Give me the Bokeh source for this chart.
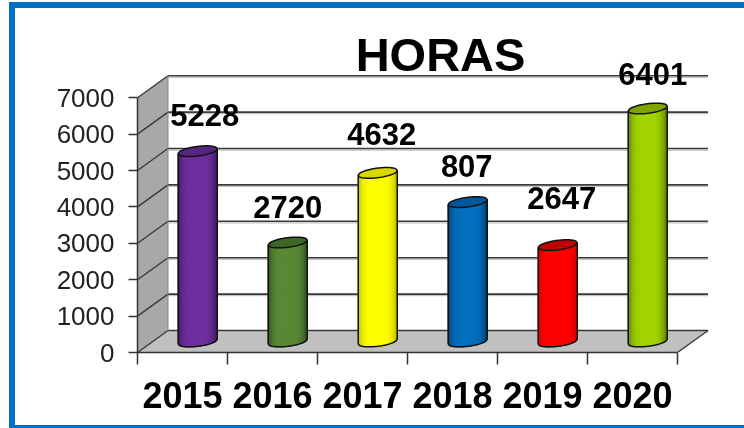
import numpy as np
from bokeh.plotting import figure, ColumnDataSource
from bokeh.models import Range1d, FixedTicker, Label, LabelSet
from bokeh.core.properties import value
from bokeh.embed import file_html
from bokeh.resources import INLINE

years = ["2015", "2016", "2017", "2018", "2019", "2020"]
bar_values = [5228, 2720, 4632, 3830, 2647, 6401]
bar_labels = ["5228", "2720", "4632", "807", "2647", "6401"]
body_colors = ["#7030A0", "#5A8A35", "#FFFF00", "#0070C0", "#FF0000", "#A2D500"]
cap_colors = ["#55267E", "#3F6627", "#D8D800", "#00579A", "#C00000", "#7FA400"]
edge_shade = [0.55, 0.55, 0.72, 0.55, 0.85, 0.55]
y_ticks = [0, 1000, 2000, 3000, 4000, 5000, 6000, 7000]
title_text = "HORAS"
label_dx = [7, 0, 4, -1, 4, 5]
label_dy = [25, 24.5, 28, 25, 36, 23.5]

PAGE_L, PAGE_T = 15, 8
W, H = 729, 417
FL, FR, FT, FB = 137 - PAGE_L, 722 - PAGE_L, 30 - PAGE_T, 352 - PAGE_T
PX_X = 90.0
PX_Y = 0.0364
N = len(years)
dx = 30.5 / PX_X
dy = 22 / PX_Y
x_end = (FR - FL) / PX_X
y_end = (FB - FT) / PX_Y

p = figure(width=W, height=H, output_backend="svg", toolbar_location=None,
           x_range=Range1d(0, x_end), y_range=Range1d(0, y_end),
           min_border_left=FL, min_border_right=W - FR,
           min_border_top=FT, min_border_bottom=H - FB)
p.styles = {"position": "fixed", "left": f"{PAGE_L}px", "top": f"{PAGE_T}px",
            "outline": "6px solid #0070C0"}
p.grid.visible = False
p.outline_line_color = None
p.background_fill_color = "white"
p.border_fill_color = "white"

# walls
top = y_ticks[-1]
p.patch([0, dx, dx, 0], [0, dy, top + dy, top], fill_color="#A8A8A8", line_color=None)
p.patch([0, N, N + dx, dx], [0, 0, dy, dy], fill_color="#C0C0C0", line_color=None)

# grid
GRID = "#3A3A3A"
SHADOW = "#C4C4C4"
sh = 1.6 / PX_Y
for v in y_ticks:
    p.line([dx, N + dx], [v + dy - sh, v + dy - sh], line_color=SHADOW, line_width=1.2)
for v in y_ticks:
    p.line([dx, N + dx], [v + dy, v + dy], line_color=GRID, line_width=1.6)
    p.line([0, dx], [v, v + dy], line_color=GRID, line_width=1.4)
p.line([dx, dx], [0 + dy, top + dy], line_color="#8A8A8A", line_width=1)
p.line([N, N + dx], [0, dy], line_color=GRID, line_width=1.4)


def shade(c, f):
    r, g, b = int(c[1:3], 16), int(c[3:5], 16), int(c[5:7], 16)
    return "#%02X%02X%02X" % (int(r * f), int(g * f), int(b * f))


a = 19.5 / PX_X
b_e = 4.8 / PX_Y
skew = 2.4 / PX_Y
us = np.linspace(-1, 1, 29)
ua = np.linspace(-1, 1, 41)

for i, v in enumerate(bar_values):
    cx = i + 0.5 + dx / 2
    base = dy / 2
    ytop = base + v
    xs, ys, cols = [], [], []
    for u0, u1 in zip(us[:-1], us[1:]):
        um = (u0 + u1) / 2
        f = edge_shade[i] + (1 - edge_shade[i]) * (1 - abs(um) ** 4)
        xs.append([cx + a * u0, cx + a * u1, cx + a * u1, cx + a * u0])
        ys.append([base + skew * u0 - b_e * np.sqrt(1 - u0 ** 2),
                   base + skew * u1 - b_e * np.sqrt(1 - u1 ** 2),
                   ytop + skew * u1, ytop + skew * u0])
        cols.append(shade(body_colors[i], f))
    p.patches(xs, ys, fill_color=cols, line_color=cols, line_width=1.2)
    # outline of the body
    ox = [cx - a, cx - a] + list(cx + a * ua) + [cx + a, cx + a]
    oy = [ytop - skew, base - skew] + list(base + skew * ua - b_e * np.sqrt(1 - ua ** 2)) + [base + skew, ytop + skew]
    p.line(ox, oy, line_color="#111111", line_width=1.5)
    # top cap
    ex = list(cx + a * ua) + list(cx + a * ua[::-1])
    ey = list(ytop + skew * ua + b_e * np.sqrt(1 - ua ** 2)) + list(ytop + skew * ua[::-1] - b_e * np.sqrt(1 - ua[::-1] ** 2))
    p.patch(ex, ey, fill_color=cap_colors[i], line_color="#111111", line_width=1.5)

# axes
p.yaxis.ticker = FixedTicker(ticks=y_ticks)
p.yaxis.bounds = (0, top)
p.yaxis.axis_line_color = "#333333"
p.yaxis.axis_line_width = 1.5
p.yaxis.major_tick_line_color = "#333333"
p.yaxis.major_tick_line_width = 1.5
p.yaxis.major_tick_out = 9
p.yaxis.major_tick_in = 0
p.yaxis.minor_tick_line_color = None
p.yaxis.major_label_standoff = 14
p.yaxis.major_label_text_font = "Liberation Sans"
p.yaxis.major_label_text_font_size = "26px"
p.yaxis.major_label_text_color = "#222222"

centres = [i + 0.5 for i in range(N)]
p.xaxis.ticker = FixedTicker(ticks=centres, minor_ticks=list(range(N + 1)))
p.xaxis.major_label_overrides = {c: y for c, y in zip(centres, years)}
p.xaxis.bounds = (0, N)
p.xaxis.axis_line_color = "#333333"
p.xaxis.axis_line_width = 1.5
p.xaxis.major_tick_line_color = None
p.xaxis.major_tick_out = 0
p.xaxis.major_tick_in = 0
p.xaxis.minor_tick_line_color = "#333333"
p.xaxis.minor_tick_line_width = 1.5
p.xaxis.minor_tick_out = 12
p.xaxis.minor_tick_in = 0
p.xaxis.major_label_standoff = 17
p.xaxis.major_label_text_font = "Liberation Sans"
p.xaxis.major_label_text_font_size = "36px"
p.xaxis.major_label_text_font_style = "bold"
p.xaxis.major_label_text_color = "black"

# value labels
src = ColumnDataSource(dict(
    x=[i + 0.5 + dx / 2 for i in range(N)],
    y=[v + dy / 2 for v in bar_values],
    t=bar_labels, ox=label_dx, oy=label_dy))
p.add_layout(LabelSet(x="x", y="y", text="t", source=src, x_offset="ox", y_offset="oy",
                      text_align="center", text_baseline="alphabetic",
                      text_font=value("Liberation Sans"), text_font_size="31px",
                      text_font_style="bold", text_color="black"))

# chart title
p.add_layout(Label(x=(440 - 137) / PX_X, y=(352 - 54) / PX_Y, text=title_text,
                   text_align="center", text_baseline="alphabetic",
                   text_font="Liberation Sans", text_font_size="47px",
                   text_font_style="bold", text_color="black"))

open("out.html", "w").write(file_html(p, INLINE))
